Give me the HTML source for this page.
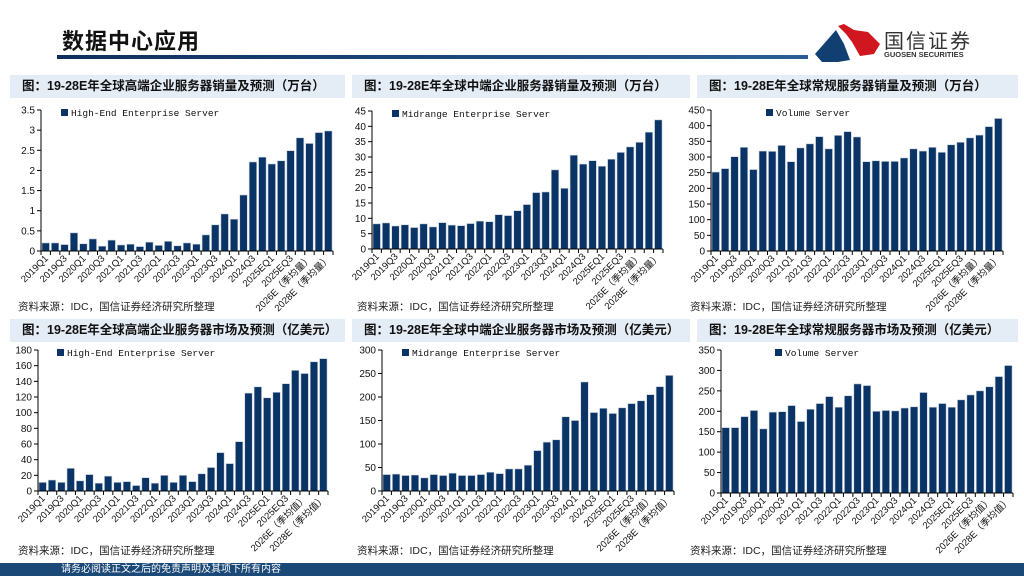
<!DOCTYPE html>
<html><head><meta charset="utf-8">
<style>
body{margin:0;width:1024px;height:576px;overflow:hidden;background:#fff;font-family:"Liberation Sans","Noto Sans CJK SC",sans-serif;position:relative}
.abs{position:absolute}
.hdr{position:absolute;height:23px;background:#e4ecf6;font-weight:bold;font-size:12.5px;line-height:23px;color:#111;padding-left:12px;box-sizing:border-box;white-space:nowrap;overflow:hidden}
.src{position:absolute;font-size:10.5px;color:#222;white-space:nowrap}
</style></head><body>
<div class="abs" style="left:62px;top:24px;font-size:22px;font-weight:bold;color:#111;letter-spacing:1px">数据中心应用</div>
<div class="abs" style="left:57px;top:55px;width:751px;height:4px;background:linear-gradient(90deg,#0d2f5e,#2a5d95)"></div>
<svg class="abs" style="left:810px;top:20px" width="80" height="46">
<polygon points="28,6 34,4 44,10 58,12 70,24 64,34 50,36 42,22 36,14" fill="#d0161e"/>
<polygon points="5,34 26,10 34,24 40,40 28,42 12,42" fill="#123f72"/>
</svg>
<div class="abs" style="left:884px;top:25px;font-size:20px;color:#333;letter-spacing:2px">国信证券</div>
<div class="abs" style="left:884px;top:50px;font-size:7.5px;font-weight:bold;color:#333">GUOSEN SECURITIES</div>

<div class="hdr" style="left:10px;top:75px;width:335px">图：19-28E年全球高端企业服务器销量及预测（万台）</div>
<div class="hdr" style="left:352px;top:75px;width:338px">图：19-28E年全球中端企业服务器销量及预测（万台）</div>
<div class="hdr" style="left:697px;top:75px;width:321px">图：19-28E年全球常规服务器销量及预测（万台）</div>
<div class="hdr" style="left:10px;top:319px;width:335px">图：19-28E年全球高端企业服务器市场及预测（亿美元）</div>
<div class="hdr" style="left:352px;top:319px;width:338px">图：19-28E年全球中端企业服务器市场及预测（亿美元）</div>
<div class="hdr" style="left:697px;top:319px;width:321px">图：19-28E年全球常规服务器市场及预测（亿美元）</div>

<div class="src" style="left:18px;top:299px">资料来源：IDC，国信证券经济研究所整理</div>
<div class="src" style="left:357px;top:299px">资料来源：IDC，国信证券经济研究所整理</div>
<div class="src" style="left:690px;top:299px">资料来源：IDC，国信证券经济研究所整理</div>
<div class="src" style="left:18px;top:543px">资料来源：IDC，国信证券经济研究所整理</div>
<div class="src" style="left:357px;top:543px">资料来源：IDC，国信证券经济研究所整理</div>
<div class="src" style="left:690px;top:543px">资料来源：IDC，国信证券经济研究所整理</div>

<div class="abs" style="left:0;top:563px;width:1024px;height:13px;background:#1a4877"></div>
<div class="abs" style="left:61px;top:563px;font-size:10px;line-height:13px;color:#fff">请务必阅读正文之后的免责声明及其项下所有内容</div>

<svg id="charts" class="abs" style="left:0;top:0" width="1024" height="576"></svg>

<script>
const quarterLabelsQty = ["2019Q1","2019Q3","2020Q1","2020Q3","2021Q1","2021Q3","2022Q1","2022Q3","2023Q1","2023Q3","2024Q1","2024Q3","2025EQ1","2025EQ3","2026E（季均量）","2028E（季均量）"];
const quarterLabelsVal = ["2019Q1","2019Q3","2020Q1","2020Q3","2021Q1","2021Q3","2022Q1","2022Q3","2023Q1","2023Q3","2024Q1","2024Q3","2025EQ1","2025EQ3","2026E（季均值）","2028E（季均值）"];
const highEndQty = [0.2,0.2,0.16,0.45,0.18,0.3,0.12,0.27,0.15,0.17,0.11,0.22,0.14,0.24,0.13,0.2,0.17,0.4,0.65,0.92,0.79,1.39,2.21,2.33,2.16,2.24,2.49,2.81,2.67,2.94,2.98];
const midQty = [8.2,8.5,7.5,7.9,7.0,8.2,7.2,8.6,7.8,7.6,8.3,9.1,8.9,11.2,10.9,12.5,14.5,18.4,18.6,25.8,19.8,30.6,27.7,28.8,27.0,29.3,31.5,33.3,34.8,38.1,42.1];
const volumeQty = [252,263,301,331,260,319,318,337,285,329,342,365,326,369,381,364,285,288,286,286,297,326,319,331,315,339,347,361,370,397,423];
const highEndVal = [11,14,11,29,13,21,10,19,11,12,7,17,10,20,11,20,12,22,30,49,35,63,125,133,119,126,137,154,150,165,169];
const midVal = [35,36,33,34,28,35,33,38,33,33,35,40,37,47,47,55,86,104,109,158,150,232,167,176,165,177,186,192,205,222,246];
const volumeVal = [160,160,187,202,157,198,199,214,175,205,219,236,210,238,267,263,200,202,201,208,211,246,210,219,210,228,240,250,260,285,312];
const ticks1 = ["0","0.5","1","1.5","2","2.5","3","3.5"];
const ticks2 = ["0","5","10","15","20","25","30","35","40","45"];
const ticks3 = ["0","50","100","150","200","250","300","350","400","450"];
const ticks4 = ["0","20","40","60","80","100","120","140","160","180"];
const ticks5 = ["0","50","100","150","200","250","300"];
const ticks6 = ["0","50","100","150","200","250","300","350"];

const NS="http://www.w3.org/2000/svg";
const svg=document.getElementById('charts');
function mk(tag,attrs,parent){const e=document.createElementNS(NS,tag);for(const k in attrs)e.setAttribute(k,attrs[k]);(parent||svg).appendChild(e);return e;}

function chart(id,g,values,ticks,labels,legend,legX){
  const grp=mk('g',{});
  
  
  const maxV=parseFloat(ticks[ticks.length-1]);
  const y=v=>g.y0-(v/maxV)*(g.y0-g.yTop);
  const n=values.length, slot=(g.xR-g.x0)/n;
  const x=i=>g.x0+i*slot;
  ticks.forEach(t=>{
    const yy=y(parseFloat(t));
    mk('line',{x1:g.x0-4,x2:g.x0,y1:yy,y2:yy,stroke:'#000','stroke-width':1},grp);
    const tx=mk('text',{x:g.x0-6,y:yy+3.5,'text-anchor':'end','font-size':10,fill:'#111','font-family':'Liberation Sans, sans-serif'},grp);
    tx.textContent=t;
    
    
  });
  values.forEach((v,i)=>{
    const r=mk('rect',{x:x(i)+slot*0.1,y:y(v),width:slot*0.8,height:g.y0-y(v),fill:'#0b3466',stroke:'#c9d3e0','stroke-width':0.6},grp);
    
    
  });
  mk('line',{x1:g.x0,x2:g.x0,y1:g.yTop,y2:g.y0,stroke:'#000','stroke-width':1},grp);
  mk('line',{x1:g.x0,x2:g.xR,y1:g.y0,y2:g.y0,stroke:'#000','stroke-width':1},grp);
  for(let i=0;i<=n;i++) mk('line',{x1:x(i),x2:x(i),y1:g.y0,y2:g.y0+4,stroke:'#000','stroke-width':1},grp);
  labels.forEach((l,k)=>{
    const cx=x(k*2)+slot/2+3, cy=g.y0+8;
    const t=mk('text',{x:cx,y:cy,'text-anchor':'end','font-size':9.5,fill:'#111','font-family':'Liberation Sans, Noto Sans CJK SC, sans-serif',transform:`rotate(-45 ${cx} ${cy})`},grp);
    t.textContent=l;
    
    
  });
  const sq=mk('rect',{x:legX,y:g.yTop-1,width:7,height:7,fill:'#0b3466'},grp);
  
  
  const lt=mk('text',{x:legX+10,y:g.yTop+6,'font-size':9.5,fill:'#111','font-family':'Liberation Mono, monospace'},grp);
  lt.textContent=legend;
  
  
}
chart('chart-highend-qty',{x0:41,xR:333,yTop:110,y0:251},highEndQty,ticks1,quarterLabelsQty,'High-End Enterprise Server',61);
chart('chart-midrange-qty',{x0:372,xR:663,yTop:111,y0:249},midQty,ticks2,quarterLabelsQty,'Midrange Enterprise Server',392);
chart('chart-volume-qty',{x0:711,xR:1003,yTop:110,y0:251},volumeQty,ticks3,quarterLabelsQty,'Volume Server',766);
chart('chart-highend-val',{x0:38,xR:328,yTop:350,y0:491},highEndVal,ticks4,quarterLabelsVal,'High-End Enterprise Server',57);
chart('chart-midrange-val',{x0:382,xR:674,yTop:350,y0:491},midVal,ticks5,quarterLabelsVal,'Midrange Enterprise Server',402);
chart('chart-volume-val',{x0:721,xR:1013,yTop:350,y0:493},volumeVal,ticks6,quarterLabelsVal,'Volume Server',775);
</script>
</body></html>
